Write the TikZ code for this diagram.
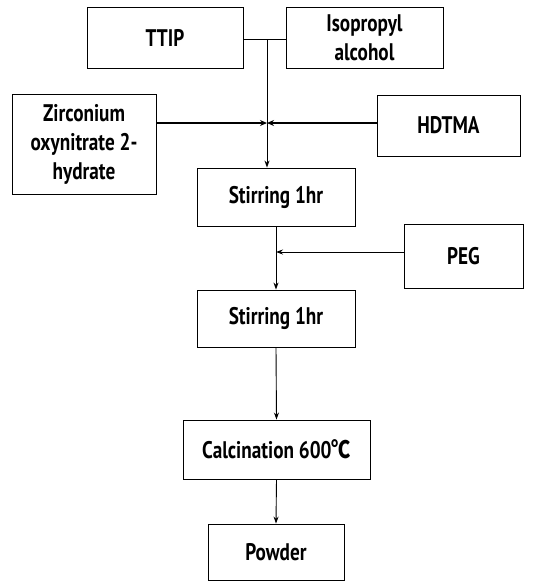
\documentclass[tikz,border=0pt]{standalone}
\usepackage{fontspec}
\setmainfont{PT Sans}[FakeStretch=0.8]
\newfontfamily\cjkfont{Noto Sans CJK KR}[FakeStretch=0.8]
\usetikzlibrary{arrows.meta}
\begin{document}
\begin{tikzpicture}[x=1pt,y=-1pt,
  box/.style={draw=black, line width=0.9pt, rectangle, align=center, inner sep=2pt,
    font=\fontsize{24}{29}\selectfont\bfseries},
  conn/.style={line width=0.9pt, -{Stealth[length=7pt,width=5pt]}},
  thickconn/.style={line width=1.8pt, -{Stealth[length=7pt,width=6pt]}}]
\useasboundingbox (0,0) rectangle (540,582);
\node[box, minimum width=156pt, minimum height=61pt] (ttip) at (165,38) {TTIP};
\node[box, minimum width=157pt, minimum height=61pt] (ipa) at (364.5,38) {Isopropyl\\alcohol};
\node[box, minimum width=144pt, minimum height=100pt] (zr) at (84,144) {Zirconium\\oxynitrate 2-\\hydrate};
\node[box, minimum width=143pt, minimum height=61pt] (hd) at (448.5,125.5) {HDTMA};
\node[box, minimum width=158pt, minimum height=58pt] (s1) at (276,197) {Stirring 1hr};
\node[box, minimum width=119pt, minimum height=64pt] (peg) at (463.5,256) {PEG};
\node[box, minimum width=158pt, minimum height=57pt] (s2) at (276,318.5) {Stirring 1hr};
\node[box, minimum width=187pt, minimum height=59pt] (calc) at (276.5,449.5) {Calcination 600{\cjkfont\bfseries ℃}};
\node[box, minimum width=136pt, minimum height=56pt] (pw) at (276,552) {Powder};
\coordinate (j1) at (267,39);
\coordinate (j2) at (267,123);
\coordinate (j3) at (276,252);
\draw[line width=0.9pt] (ttip.east |- j1) -- (ipa.west |- j1);
\draw[conn] (j1) -- (j1 |- s1.north);
\draw[thickconn] (zr.east |- j2) -- (j2);
\draw[thickconn] (hd.west |- j2) -- (j2);
\draw[conn] (s1.south) -- (s2.north);
\draw[conn] (peg.west |- j3) -- (j3);
\draw[conn] (s2.south) -- (calc.north);
\draw[conn] (calc.south) -- (pw.north);
\end{tikzpicture}
\end{document}
